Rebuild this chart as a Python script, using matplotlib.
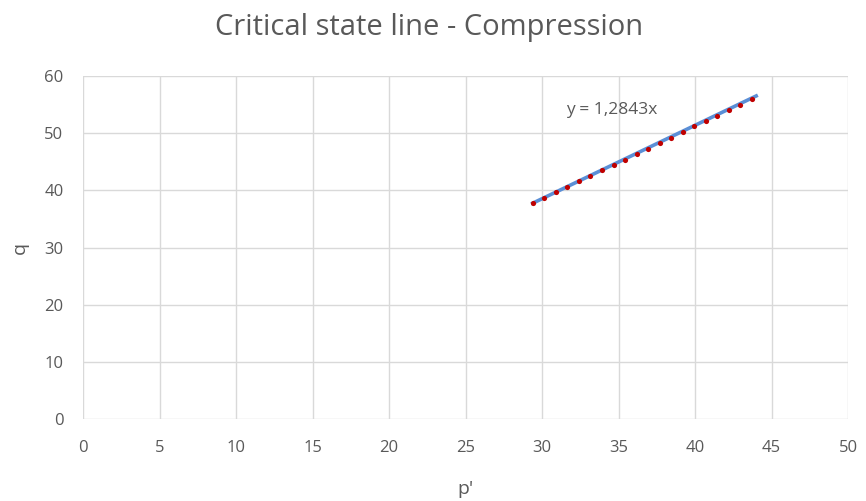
import matplotlib
matplotlib.use("Agg")
import matplotlib.pyplot as plt
import numpy as np

# Measured effective stress p' and deviator stress q (compression tests)
p_prime = [29.39, 30.13, 30.89, 31.66, 32.44, 33.16, 33.92, 34.68, 35.42, 36.19,
           36.93, 37.69, 38.45, 39.22, 39.96, 40.72, 41.46, 42.22, 42.96, 43.70]
q_vals = [37.84, 38.71, 39.71, 40.64, 41.58, 42.57, 43.51, 44.44, 45.38, 46.37,
          47.31, 48.25, 49.24, 50.18, 51.17, 52.11, 53.04, 54.04, 54.97, 55.91]

slope = 1.2843  # trendline through origin: q = M p'
x_ticks = [0, 5, 10, 15, 20, 25, 30, 35, 40, 45, 50]
y_ticks = [0, 10, 20, 30, 40, 50, 60]

plt.rcParams['font.family'] = ['Open Sans', 'DejaVu Sans']
text_col = '#595959'
grid_col = '#d9d9d9'

W, H = 866, 501
x0, x1, y0, y1 = 83, 848, 419, 76
fig = plt.figure(figsize=(W / 100, H / 100), dpi=100)
ax = fig.add_axes([x0 / W, 1 - y0 / H, (x1 - x0) / W, (y0 - y1) / H])

ax.set_xlim(0, 50)
ax.set_ylim(0, 60)
ax.set_xticks(x_ticks)
ax.set_yticks(y_ticks)
ax.grid(True, color=grid_col, linewidth=1)
ax.set_axisbelow(True)
for s in ax.spines.values():
    s.set_visible(False)
ax.tick_params(length=0, labelsize=12, labelcolor=text_col)
ax.tick_params(axis='x', pad=15)
ax.tick_params(axis='y', pad=14)

# Linear trendline across the data range
xt = np.array([min(p_prime), max(p_prime) + 0.3])
ax.plot(xt, slope * xt, color='#5b8fd6', linewidth=2.6, zorder=2)
ax.scatter(p_prime, q_vals, s=14, color='#c00000', zorder=3, linewidths=0)

ax.text(31.6, 54.0, f"y = {slope:.4f}x".replace('.', ','), fontsize=12.5,
        color=text_col, va='center', ha='left')

ax.set_xlabel("p'", fontsize=14, color=text_col, va='center')
ax.xaxis.set_label_coords(0.5, (y0 - 489) / (y0 - y1))
ax.set_ylabel("q", fontsize=14, color=text_col, va='center')
ax.yaxis.set_label_coords((20 - x0) / (x1 - x0), 0.5)
fig.text((215 + 644) / 2 / W, 1 - 27 / H, "Critical state line - Compression",
         fontsize=21, color=text_col, ha='center', va='center')

fig.savefig("out.png", dpi=100, facecolor='white')
